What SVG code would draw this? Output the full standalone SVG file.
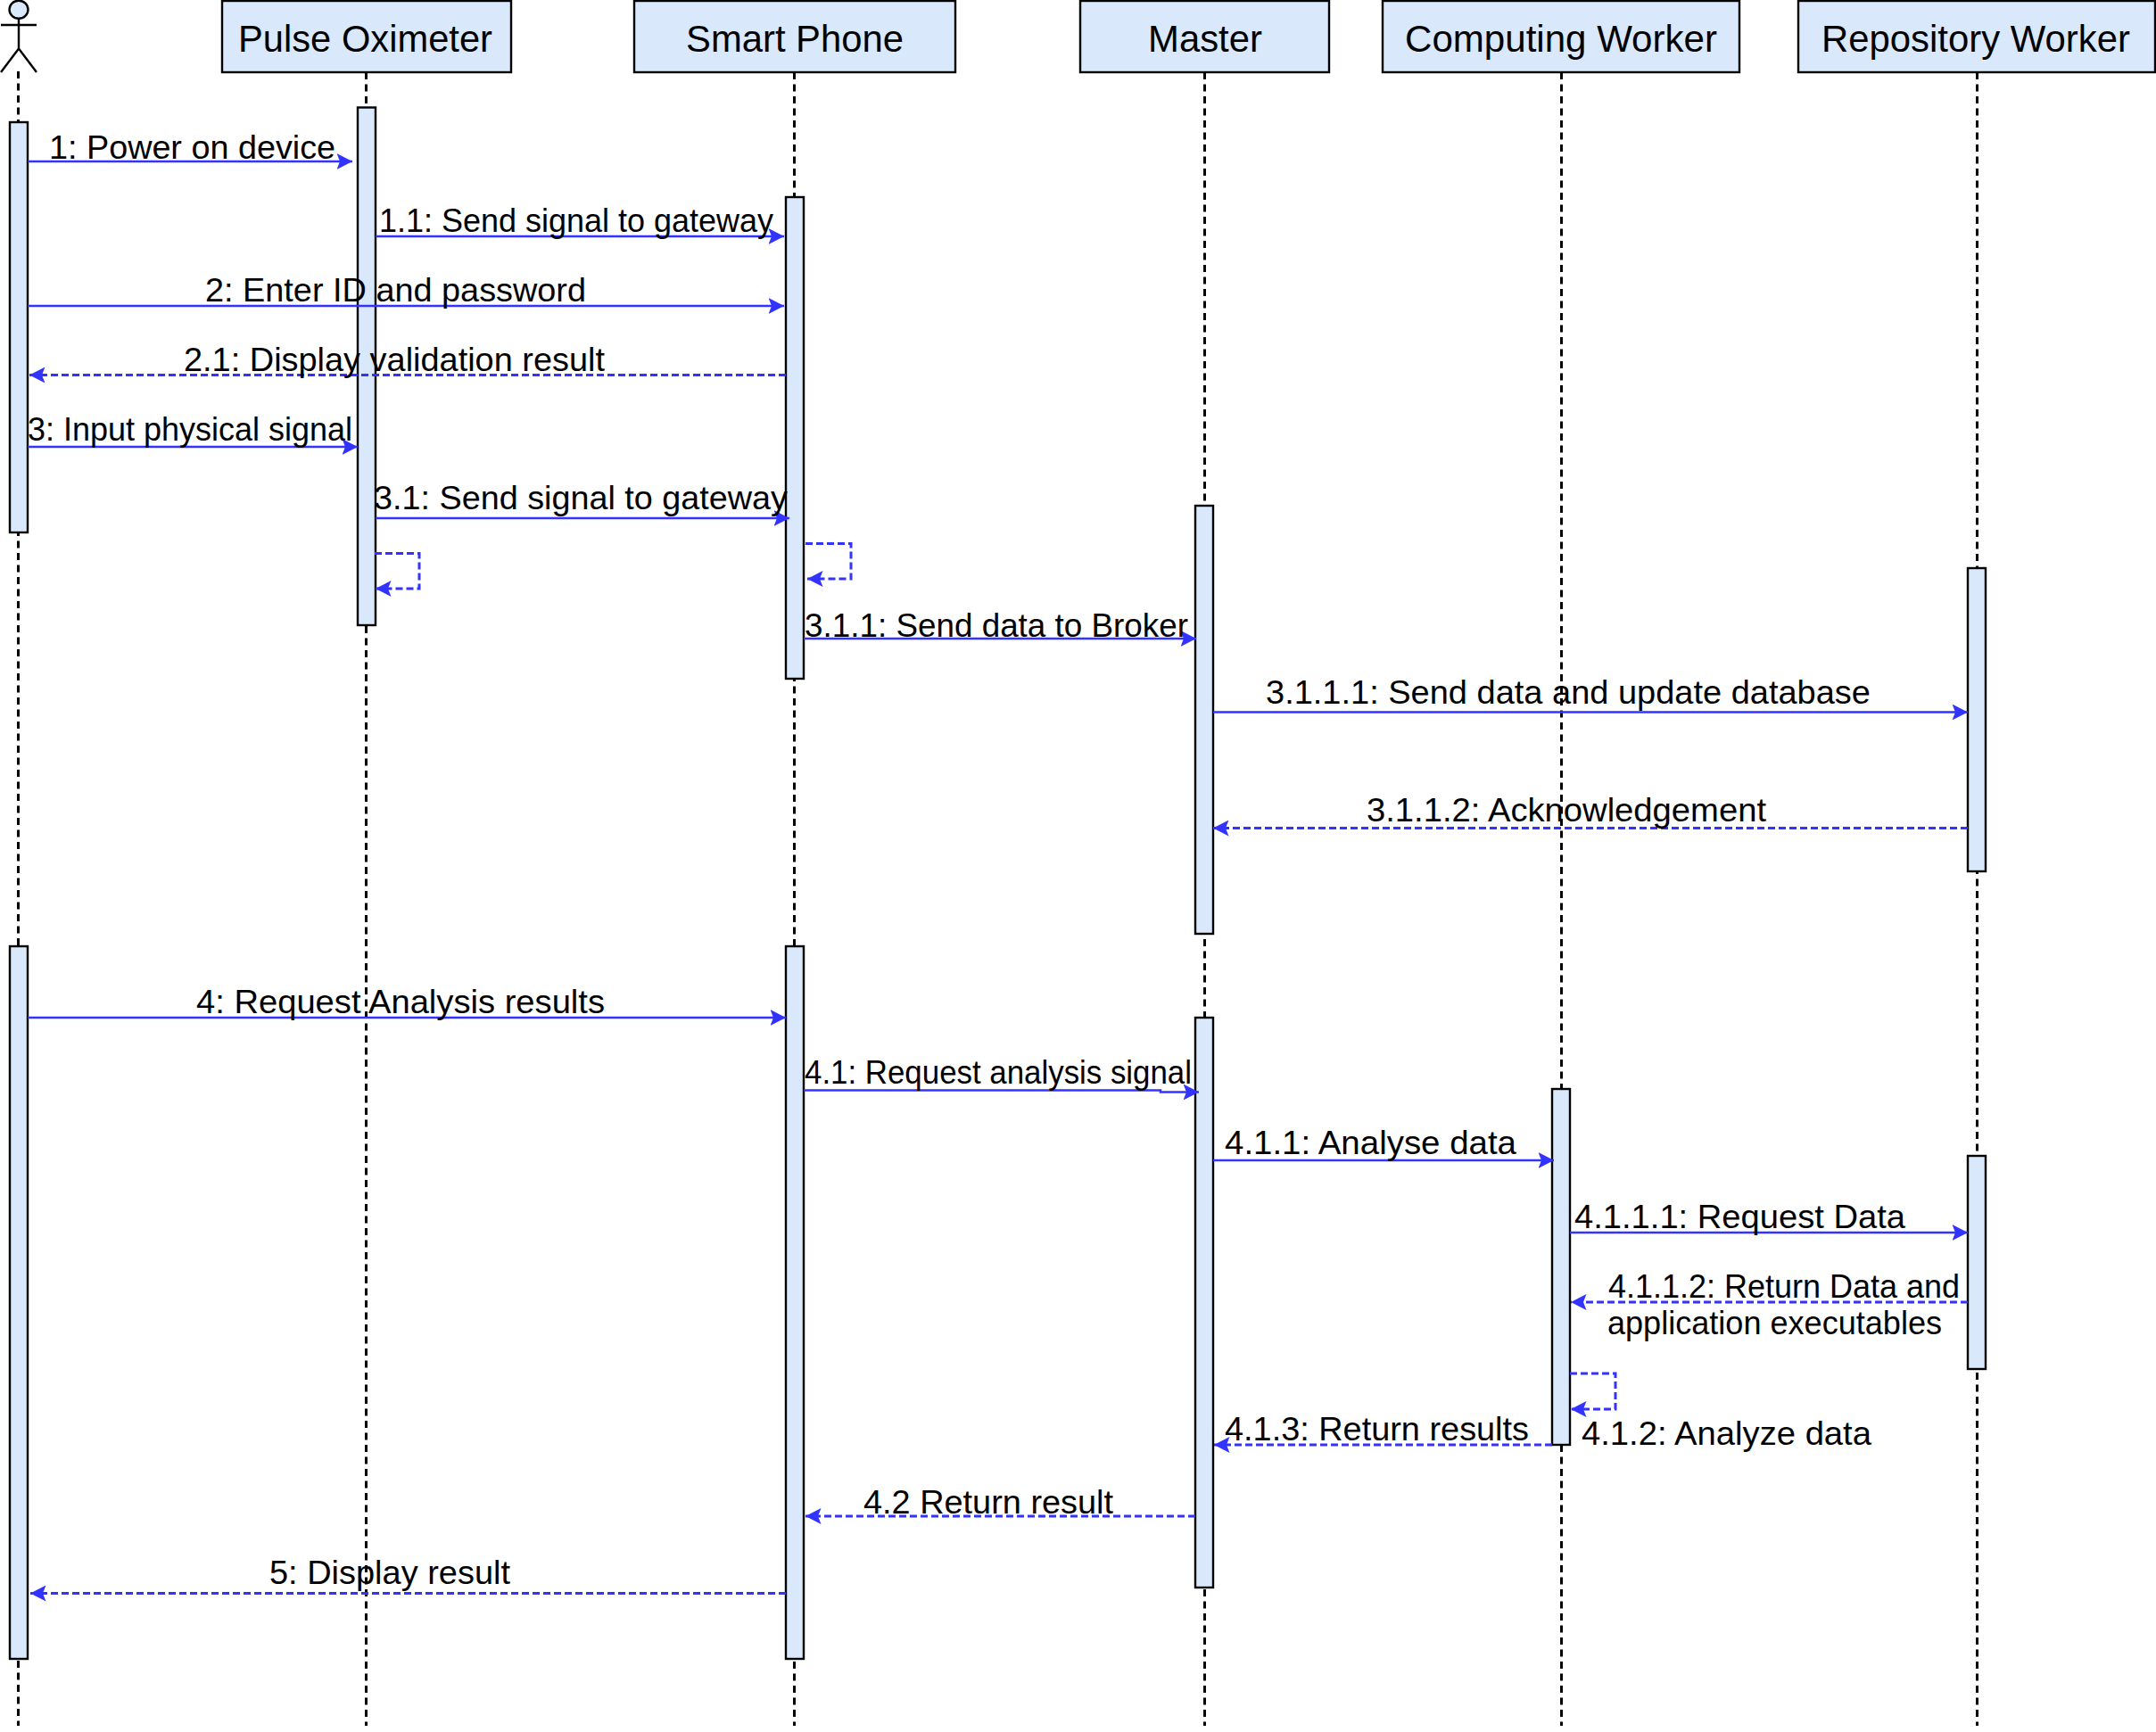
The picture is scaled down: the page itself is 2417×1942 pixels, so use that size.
<svg xmlns="http://www.w3.org/2000/svg" width="2417" height="1942" viewBox="0 0 2417 1942">
<style>
.box{fill:#dae8fc;stroke:#000;stroke-width:2.4}
.life{fill:none;stroke:#000;stroke-width:3;stroke-dasharray:8 5.500}
.actor{fill:#dae8fc;stroke:#000;stroke-width:2.4}
.stick{fill:none;stroke:#000;stroke-width:2.4}
.msg{fill:none;stroke:#3333ff;stroke-width:2.6;marker-end:url(#arrow)}
.ret{fill:none;stroke:#3333ff;stroke-width:3;stroke-dasharray:8 4;marker-end:url(#arrow)}
text{font-family:"Liberation Sans",Arial,sans-serif;fill:#000;font-size:37px}
.head{font-size:41.6px}
</style>
<defs>
<marker id="arrow" markerUnits="userSpaceOnUse" markerWidth="18" markerHeight="18" refX="17.500" refY="9" orient="auto">
<path d="M0 0L17.500 9L0 18L3.500 9z" fill="#3333ff"/>
</marker>
</defs>
<g id="actor">
<path class="life" d="M20.500 80V1935"/>
<ellipse class="actor" cx="21" cy="10.700" rx="10.500" ry="10"/>
<path class="stick" d="M21 20.700V54.500M1 28H41M1 81L21 54.500L41 81"/>
<rect class="box" x="11" y="137" width="20" height="460"/>
<rect class="box" x="11" y="1061" width="20" height="799"/>
</g>
<g id="pulse-oximeter">
<path class="life" d="M410.500 81V1935"/>
<rect class="box" x="249" y="1" width="324" height="80"/>
<text class="head" x="267" y="58" textLength="285" lengthAdjust="spacingAndGlyphs">Pulse Oximeter</text>
<rect class="box" x="401" y="120.500" width="20" height="580.500"/>
</g>
<g id="smart-phone">
<path class="life" d="M890.500 81V1935"/>
<rect class="box" x="711" y="1" width="360" height="80"/>
<text class="head" x="769" y="58" textLength="244" lengthAdjust="spacingAndGlyphs">Smart Phone</text>
<rect class="box" x="881" y="221" width="20" height="540"/>
<rect class="box" x="881" y="1061" width="20" height="799"/>
</g>
<g id="master">
<path class="life" d="M1350.500 81V1935"/>
<rect class="box" x="1211" y="1" width="279" height="80"/>
<text class="head" x="1287" y="58" textLength="128" lengthAdjust="spacingAndGlyphs">Master</text>
<rect class="box" x="1340" y="567" width="20" height="480"/>
<rect class="box" x="1340" y="1141" width="20" height="639"/>
</g>
<g id="computing-worker">
<path class="life" d="M1750.500 81V1935"/>
<rect class="box" x="1550" y="1" width="400" height="80"/>
<text class="head" x="1575" y="58" textLength="350" lengthAdjust="spacingAndGlyphs">Computing Worker</text>
<rect class="box" x="1740" y="1221" width="20" height="399"/>
</g>
<g id="repository-worker">
<path class="life" d="M2216.500 81V1935"/>
<rect class="box" x="2016" y="1" width="400" height="80"/>
<text class="head" x="2042" y="58" textLength="346" lengthAdjust="spacingAndGlyphs">Repository Worker</text>
<rect class="box" x="2206" y="637" width="20" height="340"/>
<rect class="box" x="2206" y="1296" width="20" height="239"/>
</g>
<g id="connectors">
<path class="msg" d="M31 181H395"/>
<path class="msg" d="M421 265H879"/>
<path class="msg" d="M31 343H879"/>
<path class="ret" d="M881 420.500H33"/>
<path class="msg" d="M31 501H401"/>
<path class="msg" d="M421 581H885"/>
<path class="ret" d="M420 620.500H470V660H421"/>
<path class="ret" d="M903 609.500H954V649H905"/>
<path class="msg" d="M901 716H1341"/>
<path class="msg" d="M1360 798.500H2206"/>
<path class="ret" d="M2206 928.500H1360"/>
<path class="msg" d="M31 1141H881"/>
<path class="msg" d="M901 1222.500H1301V1224.500H1344"/>
<path class="msg" d="M1360 1301H1742"/>
<path class="msg" d="M1760 1382H2206"/>
<path class="ret" d="M2206 1460H1761"/>
<path class="ret" d="M1760 1540H1811V1580H1761"/>
<path class="ret" d="M1740 1620H1361"/>
<path class="ret" d="M1340 1700H903"/>
<path class="ret" d="M881 1786.500H34"/>
<g id="labels">
<text x="55" y="178" textLength="321" lengthAdjust="spacingAndGlyphs">1: Power on device</text>
<text x="425" y="260" textLength="442" lengthAdjust="spacingAndGlyphs">1.1: Send signal to gateway</text>
<text x="230" y="338" textLength="427" lengthAdjust="spacingAndGlyphs">2: Enter ID and password</text>
<text x="206" y="416" textLength="472" lengthAdjust="spacingAndGlyphs">2.1: Display validation result</text>
<text x="31" y="494" textLength="364" lengthAdjust="spacingAndGlyphs">3: Input physical signal</text>
<text x="419" y="571" textLength="464" lengthAdjust="spacingAndGlyphs">3.1: Send signal to gateway</text>
<text x="902" y="714" textLength="430" lengthAdjust="spacingAndGlyphs">3.1.1: Send data to Broker</text>
<text x="1419" y="789" textLength="678" lengthAdjust="spacingAndGlyphs">3.1.1.1: Send data and update database</text>
<text x="1532" y="921" textLength="448" lengthAdjust="spacingAndGlyphs">3.1.1.2: Acknowledgement</text>
<text x="220" y="1136" textLength="458" lengthAdjust="spacingAndGlyphs">4: Request Analysis results</text>
<text x="902" y="1215" textLength="434" lengthAdjust="spacingAndGlyphs">4.1: Request analysis signal</text>
<text x="1373" y="1294" textLength="327" lengthAdjust="spacingAndGlyphs">4.1.1: Analyse data</text>
<text x="1765" y="1377" textLength="371" lengthAdjust="spacingAndGlyphs">4.1.1.1: Request Data</text>
<text x="1803" y="1455" textLength="394" lengthAdjust="spacingAndGlyphs">4.1.1.2: Return Data and</text>
<text x="1802" y="1496" textLength="375" lengthAdjust="spacingAndGlyphs">application executables</text>
<text x="1773" y="1620" textLength="325" lengthAdjust="spacingAndGlyphs">4.1.2: Analyze data</text>
<text x="1373" y="1615" textLength="341" lengthAdjust="spacingAndGlyphs">4.1.3: Return results</text>
<text x="968" y="1697" textLength="280" lengthAdjust="spacingAndGlyphs">4.2 Return result</text>
<text x="302" y="1776" textLength="270" lengthAdjust="spacingAndGlyphs">5: Display result</text>
</g>
</g>
</svg>
